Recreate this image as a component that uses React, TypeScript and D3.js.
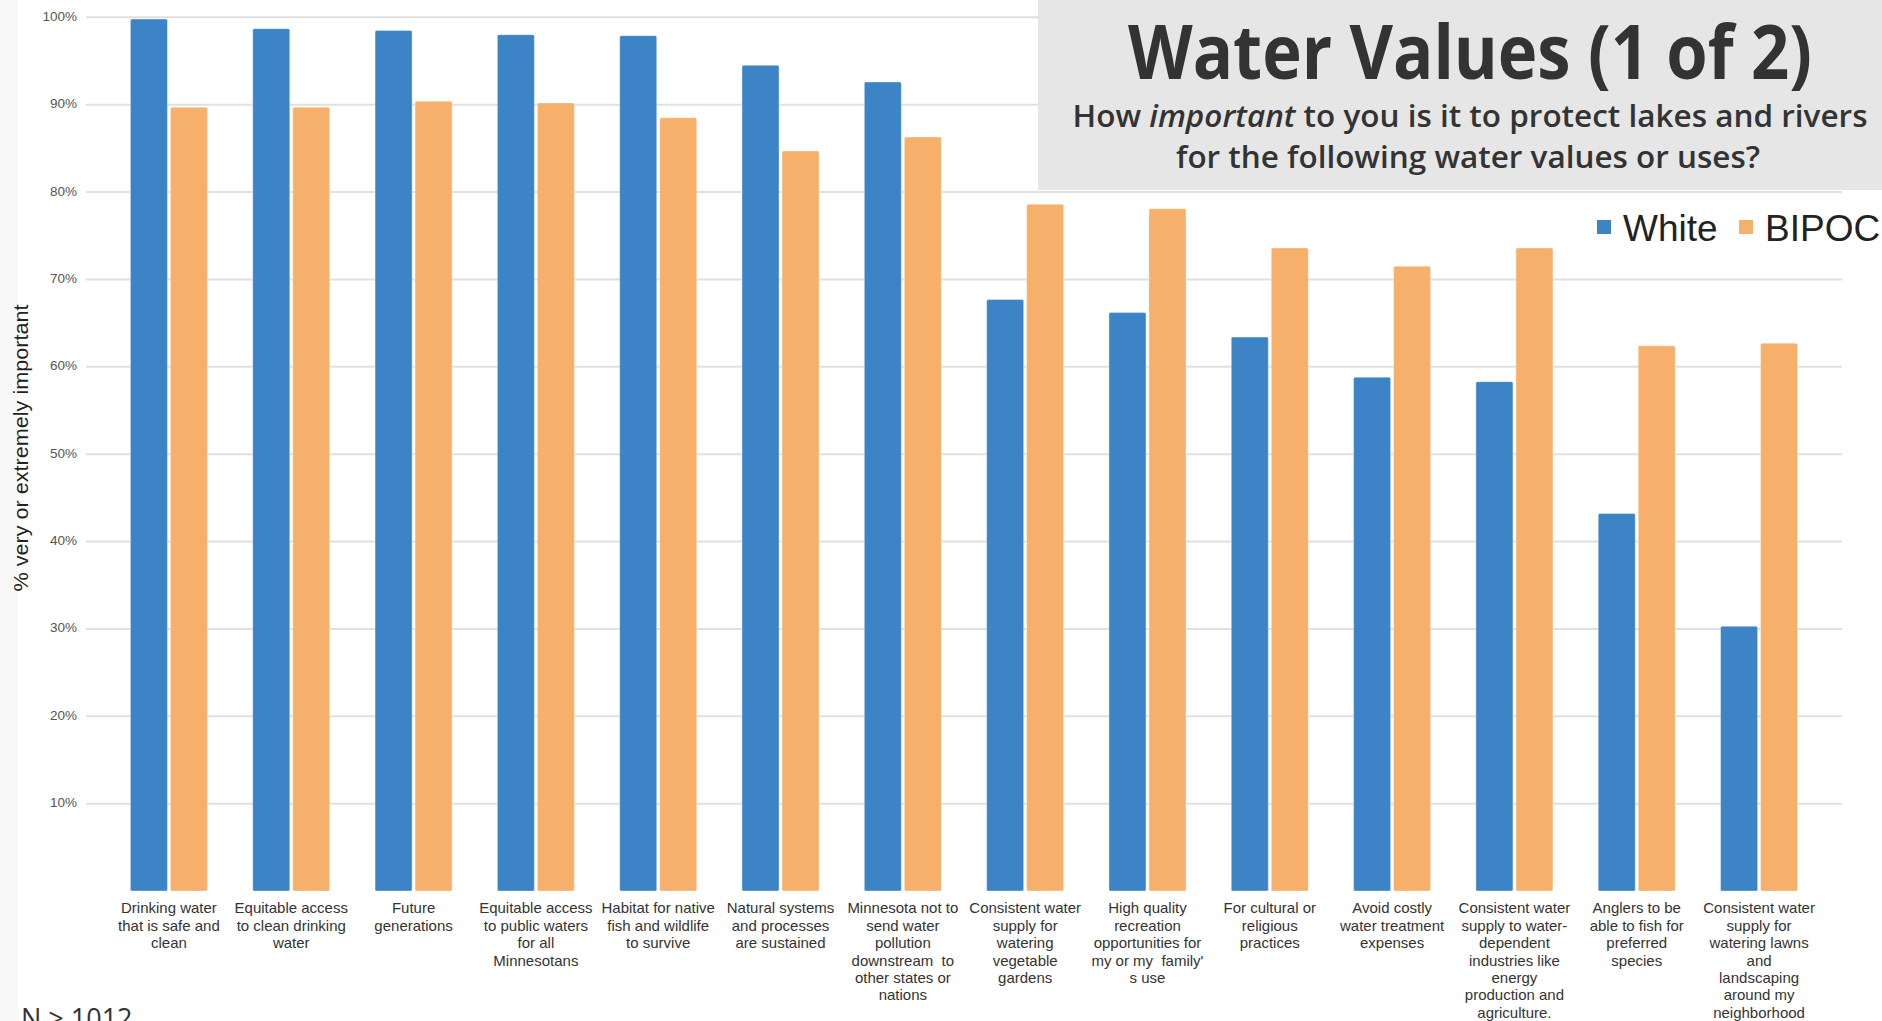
import React from "react";
import * as d3 from "d3";

const categories: string[][] = [
  ["Drinking water", "that is safe and", "clean"],
  ["Equitable access", "to clean drinking", "water"],
  ["Future", "generations"],
  ["Equitable access", "to public waters", "for all", "Minnesotans"],
  ["Habitat for native", "fish and wildlife", "to survive"],
  ["Natural systems", "and processes", "are sustained"],
  ["Minnesota not to", "send water", "pollution", "downstream  to", "other states or", "nations"],
  ["Consistent water", "supply for", "watering", "vegetable", "gardens"],
  ["High quality", "recreation", "opportunities for", "my or my  family'", "s use"],
  ["For cultural or", "religious", "practices"],
  ["Avoid costly", "water treatment", "expenses"],
  ["Consistent water", "supply to water-", "dependent", "industries like", "energy", "production and", "agriculture."],
  ["Anglers to be", "able to fish for", "preferred", "species"],
  ["Consistent water", "supply for", "watering lawns", "and", "landscaping", "around my", "neighborhood"],
];

const whiteValues = [99.8, 98.7, 98.5, 98.0, 97.9, 94.5, 92.6, 67.7, 66.2, 63.4, 58.8, 58.3, 43.2, 30.3];
const bipocValues = [89.7, 89.7, 90.4, 90.2, 88.5, 84.7, 86.3, 78.6, 78.1, 73.6, 71.5, 73.6, 62.4, 62.7];

const seriesNames = ["White", "BIPOC"];
const seriesColors = ["#3d84c6", "#f6b06b"];
const tickValues = [10, 20, 30, 40, 50, 60, 70, 80, 90, 100];

const W = 1882;
const H = 1021;

export default function App() {
  const ids = categories.map((_, i) => String(i));
  const x = d3.scaleBand<string>().domain(ids).range([86, 1842]).paddingInner(0).paddingOuter(0.178);
  const xs = d3
    .scaleBand<string>()
    .domain(seriesNames)
    .range([0, x.bandwidth()])
    .paddingInner(0.075)
    .paddingOuter(0.566);
  const y = d3.scaleLinear().domain([0, 100]).range([891, 17.3]);
  const fmt = (v: number) => `${v}%`;
  const series = [whiteValues, bipocValues];

  return (
    <svg
      width={W}
      height={H}
      viewBox={`0 0 ${W} ${H}`}
      style={{ position: "absolute", left: 0, top: 0, background: "#fff" }}
      fontFamily="'Liberation Sans', Arial, sans-serif"
    >
      <rect x={0} y={0} width={W} height={H} fill="#ffffff" />
      <rect x={0} y={0} width={18} height={H} fill="#f8f8f8" />

      {/* gridlines */}
      {tickValues.map((t) => (
        <line key={t} x1={86} x2={1842} y1={y(t)} y2={y(t)} stroke="#e0e0e0" strokeWidth={2} />
      ))}

      {/* tick labels */}
      {tickValues.map((t) => (
        <text
          key={"l" + t}
          x={77}
          y={y(t)}
          textAnchor="end"
          dominantBaseline="middle"
          fontSize={13.5}
          fill="#555"
        >
          {fmt(t)}
        </text>
      ))}

      {/* bars */}
      {ids.map((id, i) => (
        <g key={id} transform={`translate(${x(id)},0)`}>
          {series.map((vals, s) => (
            <rect
              key={s}
              x={xs(seriesNames[s])}
              y={y(vals[i])}
              width={xs.bandwidth()}
              height={y(0) - y(vals[i])}
              fill={seriesColors[s]}
              rx={1.5}
              stroke="#ffffff"
              strokeOpacity={0.35}
              strokeWidth={1}
            />
          ))}
        </g>
      ))}

      {/* category labels */}
      {ids.map((id, i) => (
        <text
          key={"c" + id}
          x={(x(id) as number) + x.bandwidth() / 2}
          y={913.3}
          textAnchor="middle"
          fontSize={15}
          fill="#333"
          style={{ whiteSpace: "pre" }}
        >
          {categories[i].map((line, k) => (
            <tspan key={k} x={(x(id) as number) + x.bandwidth() / 2} dy={k === 0 ? 0 : 17.4}>
              {line}
            </tspan>
          ))}
        </text>
      ))}

      {/* y axis title */}
      <text
        transform="translate(28,448) rotate(-90)"
        textAnchor="middle"
        fontSize={21}
        fill="#222"
        textLength={287}
        lengthAdjust="spacingAndGlyphs"
      >
        % very or extremely important
      </text>

      {/* title box */}
      <rect x={1038} y={0} width={W - 1038} height={190} fill="#e6e6e6" />
      <text
        x={1470}
        y={79}
        textAnchor="middle"
        fontFamily="'Open Sans', sans-serif"
        fontWeight={700}
        fontSize={75}
        fill="#333"
        textLength={684}
        lengthAdjust="spacingAndGlyphs"
      >
        Water Values (1 of 2)
      </text>
      <text
        x={1470}
        y={127}
        textAnchor="middle"
        fontFamily="'Open Sans', sans-serif"
        fontWeight={600}
        fontSize={30}
        fill="#333"
        textLength={795}
        lengthAdjust="spacingAndGlyphs"
      >
        How <tspan fontStyle="italic">important</tspan> to you is it to protect lakes and rivers
      </text>
      <text
        x={1468}
        y={168}
        textAnchor="middle"
        fontFamily="'Open Sans', sans-serif"
        fontWeight={600}
        fontSize={30}
        fill="#333"
        textLength={584}
        lengthAdjust="spacingAndGlyphs"
      >
        for the following water values or uses?
      </text>

      {/* legend */}
      {seriesNames.map((name, s) => {
        const lx = s === 0 ? 1597 : 1739;
        return (
          <g key={name}>
            <rect x={lx} y={220} width={14} height={14} fill={seriesColors[s]} />
            <text x={lx + 26} y={241} fontSize={37} fill="#222">
              {name}
            </text>
          </g>
        );
      })}

      {/* footnote */}
      <text x={21} y={1028} fontFamily="'Open Sans', sans-serif" fontSize={27} fill="#333">
        N ≥ 1012
      </text>
    </svg>
  );
}
